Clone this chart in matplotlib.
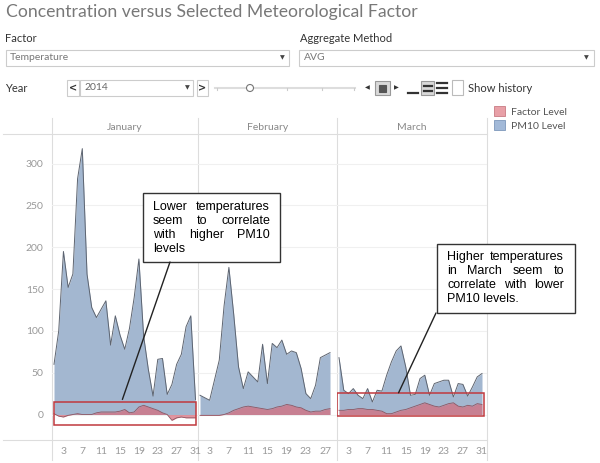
import numpy as np
import matplotlib
matplotlib.use('Agg')
import matplotlib.pyplot as plt
from matplotlib.patches import Rectangle, Circle, Patch

# Daily PM10 level and temperature factor
jan_pm10 = [60, 100, 195, 152, 168, 282, 318, 168, 128, 116, 126, 136, 83, 118, 95,
            78, 103, 140, 186, 94, 54, 22, 66, 67, 24, 36, 60, 72, 105, 118, 18]
jan_factor = [1, -2, -3, -1, 0, 1, 0, 0, 0, 2, 3, 3, 3, 3, 4,
              6, 2, 3, 9, 11, 9, 7, 5, 2, 0, -7, -4, -3, -4, -4, -4]
feb_pm10 = [23, 20, 17, 41, 65, 130, 176, 120, 57, 31, 51, 45, 39, 84,
            37, 85, 80, 89, 72, 76, 74, 55, 25, 19, 35, 68, 71, 74]
feb_factor = [-1, -1, -1, -1, -1, 0, 2, 5, 7, 9, 10, 9, 8, 7,
              6, 7, 9, 10, 12, 11, 9, 8, 5, 3, 4, 4, 6, 7]
mar_pm10 = [68, 29, 25, 31, 23, 19, 31, 15, 29, 28, 47, 63, 76, 82, 57, 23,
            24, 43, 47, 23, 37, 39, 41, 41, 21, 37, 36, 22, 33, 45, 49]
mar_factor = [5, 5, 6, 6, 7, 7, 6, 6, 5, 4, 1, 1, 3, 5, 6, 8,
              10, 12, 14, 12, 10, 9, 11, 13, 14, 10, 9, 11, 10, 13, 12]

months = ['January', 'February', 'March']
pm10 = [jan_pm10, feb_pm10, mar_pm10]
factor = [jan_factor, feb_factor, mar_factor]
day_ticks = [[3, 7, 11, 15, 19, 23, 27, 31], [3, 7, 11, 15, 19, 23, 27],
             [3, 7, 11, 15, 19, 23, 27, 31]]
y_ticks = [0, 50, 100, 150, 200, 250, 300]

# highlight boxes (day range, value range) and notes
jan_box = (0.9, 31.1, -13, 15)
mar_box = (0.6, 31.5, -2, 26)
jan_note = ['Lower temperatures', 'seem to correlate', 'with higher PM10', 'levels']
mar_note = ['Higher temperatures', 'in March seem to', 'correlate with lower', 'PM10 levels.']

W, H = 600, 463
UI = 'Lato'
fig = plt.figure(figsize=(6, 4.63), dpi=100)

def px_axes(x0, y0, x1, y1, **kw):
    return fig.add_axes([x0 / W, 1 - y1 / H, (x1 - x0) / W, (y1 - y0) / H], **kw)

# background layer in pixel coordinates
bg = px_axes(0, 0, W, H, zorder=0)
bg.set_xlim(0, W)
bg.set_ylim(H, 0)
bg.axis('off')

def box(ax, x0, y0, x1, y1, fc='white', ec='#cccccc', lw=0.8):
    ax.add_patch(Rectangle((x0, y0), x1 - x0, y1 - y0, fc=fc, ec=ec, lw=lw))

# title and filter controls
bg.text(6, 12, 'Concentration versus Selected Meteorological Factor', fontsize=12.7,
        color='#787878', va='center', family=UI)
bg.text(5, 39, 'Factor', fontsize=8, color='#333333', va='center', family=UI)
box(bg, 5.5, 50, 289, 66)
bg.text(10, 58, 'Temperature', fontsize=7.5, color='#777777', va='center', family=UI)
bg.text(282, 58, '▼', fontsize=4.5, color='#444444', va='center', ha='center')
bg.text(300, 39, 'Aggregate Method', fontsize=8, color='#333333', va='center', family=UI)
box(bg, 299, 50, 594, 66)
bg.text(304, 58, 'AVG', fontsize=7.5, color='#777777', va='center', family=UI)
bg.text(586, 58, '▼', fontsize=4.5, color='#444444', va='center', ha='center')

bg.text(5, 88, 'Year', fontsize=8, color='#333333', va='center', family=UI)
box(bg, 67, 80, 79, 96)
bg.text(73, 88, '<', fontsize=7, color='#333333', va='center', ha='center', weight='bold')
box(bg, 80, 80, 193, 96)
bg.text(84, 88, '2014', fontsize=7.5, color='#666666', va='center', family=UI)
bg.text(187, 88, '▼', fontsize=4.5, color='#444444', va='center', ha='center')
box(bg, 197, 80, 208, 96)
bg.text(202.5, 88, '>', fontsize=7, color='#333333', va='center', ha='center', weight='bold')
bg.plot([215, 355], [88, 88], color='#dddddd', lw=1.5)
for tx in [217, 287, 322, 354]:
    bg.plot([tx, tx], [88, 90], color='#cccccc', lw=0.8)
bg.add_patch(Circle((250, 88), 3.5, fc='white', ec='#777777', lw=0.8, zorder=3))
bg.text(367, 88, '◀', fontsize=4.5, color='#333333', va='center', ha='center')
box(bg, 375, 81, 390, 95, fc='#d9d9d9', ec='#999999')
box(bg, 379, 84.5, 386, 91.5, fc='#555555', ec='#555555')
bg.text(396, 88, '▶', fontsize=4.5, color='#333333', va='center', ha='center')
bg.plot([408, 418], [92.5, 92.5], color='#333333', lw=1.6)
box(bg, 421, 81, 434, 95, fc='#d9d9d9', ec='#999999')
for ly in [86, 91]:
    bg.plot([423.5, 431.5], [ly, ly], color='#333333', lw=1.6)
for ly in [83, 88, 93]:
    bg.plot([437, 447], [ly, ly], color='#333333', lw=1.6)
box(bg, 452, 80, 463, 95, ec='#bbbbbb')
bg.text(468, 88, 'Show history', fontsize=8, color='#333333', va='center', family=UI)

# panel frame lines
panel_px = [(52, 198), (198, 337), (337, 487)]
for xs in [52, 198, 337, 487]:
    bg.plot([xs, xs], [118, 460], color='#dddddd', lw=0.8)
bg.plot([3, 487], [134, 134], color='#dddddd', lw=0.8)
bg.plot([3, 487], [440, 440], color='#dddddd', lw=0.8)
for (x0, x1), name in zip(panel_px, months):
    bg.text((x0 + x1) / 2, 127, name, fontsize=7.5, color='#888888',
            ha='center', va='center', family=UI)

# chart panels: day 1 and last day pixel positions set the x limits
day_px = [(54, 195.5), (200, 330), (339, 482)]
axes = []
for i in range(3):
    x0, x1 = panel_px[i]
    ax = px_axes(x0, 134, x1, 440, zorder=1)
    ax.set_facecolor('none')
    days = np.arange(1, len(pm10[i]) + 1)
    d0, d1 = day_px[i]
    per_day = (d1 - d0) / (len(days) - 1)
    ax.set_xlim(1 - (d0 - x0) / per_day, len(days) + (x1 - d1) / per_day)
    ax.set_ylim(-30.5, 335.5)
    ax.yaxis.grid(True, color='#f0f0f0', lw=0.8)
    ax.set_axisbelow(True)
    ax.fill_between(days, 0, pm10[i], color='#a3b7d0', lw=0)
    ax.plot(days, pm10[i], color='#5d6470', lw=0.7)
    ax.fill_between(days, 0, factor[i], color='#d66b7b', alpha=0.72, lw=0)
    ax.plot(days, factor[i], color='#8e5561', lw=0.6)
    for s in ax.spines.values():
        s.set_visible(False)
    ax.set_xticks(day_ticks[i])
    ax.tick_params(axis='x', length=0, pad=5, labelsize=7.5, labelcolor='#999999')
    ax.set_yticks(y_ticks)
    if i == 0:
        ax.tick_params(axis='y', length=0, pad=6, labelsize=7.5, labelcolor='#999999')
    else:
        ax.tick_params(axis='y', length=0, labelleft=False)
    for lab in ax.get_xticklabels() + ax.get_yticklabels():
        lab.set_family(UI)
    axes.append(ax)

for ax, (bx0, bx1, by0, by1) in [(axes[0], jan_box), (axes[2], mar_box)]:
    ax.add_patch(Rectangle((bx0, by0), bx1 - bx0, by1 - by0, fill=False,
                           ec='#c0393e', lw=1.1, zorder=5))

# legend
fig.legend(handles=[Patch(fc='#e8a0a7', ec='#c97b84', lw=0.6),
                    Patch(fc='#a2b9d8', ec='#7d97ba', lw=0.6)],
           labels=['Factor Level', 'PM10 Level'], loc='upper left',
           bbox_to_anchor=(494 / W, 1 - 106 / H), frameon=False,
           labelcolor='#555555', handlelength=1.1, handleheight=1.1,
           handletextpad=0.5, labelspacing=0.35, borderpad=0, borderaxespad=0,
           prop={'family': UI, 'size': 7.5})

# overlay for annotation notes
ov = px_axes(0, 0, W, H, zorder=5)
ov.set_xlim(0, W)
ov.set_ylim(H, 0)
ov.axis('off')
renderer = fig.canvas.get_renderer()

def note(rect, text_x, line_y, lines, tip, tip_ax, anchor):
    x0, y0, x1, y1 = rect
    ov.add_patch(Rectangle((x0, y0), x1 - x0, y1 - y0, fc='white', ec='#333333', lw=1))
    ov.annotate('', xy=tip, xycoords=tip_ax.transData, xytext=anchor,
                textcoords=ov.transData,
                arrowprops=dict(arrowstyle='-', color='#222222', lw=1,
                                shrinkA=0, shrinkB=0))
    for k, line in enumerate(lines):
        y = line_y + k * 14.2
        words = line.split()
        if k == len(lines) - 1 or len(words) == 1:
            ov.text(text_x[0], y, line, fontsize=9, family='Liberation Sans',
                    va='center', color='black')
            continue
        texts = [ov.text(0, y, w, fontsize=9, family='Liberation Sans',
                         va='center', color='black') for w in words]
        widths = [t.get_window_extent(renderer).width for t in texts]
        gap = (text_x[1] - text_x[0] - sum(widths)) / (len(words) - 1)
        pos = text_x[0]
        for t, wd in zip(texts, widths):
            t.set_x(pos)
            pos += wd + gap

note((143, 193, 280, 262), (153, 270), 206.7, jan_note, (15.5, 18), axes[0], (170, 262))
note((437, 244, 575, 313), (447, 564), 256.7, mar_note, (13.5, 26), axes[2], (436, 313))

fig.savefig('out.png', dpi=100)
